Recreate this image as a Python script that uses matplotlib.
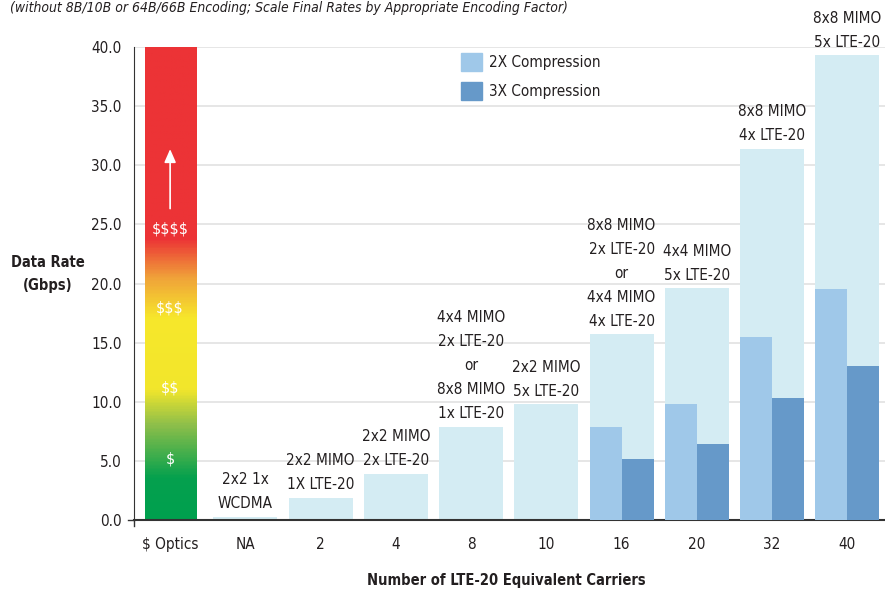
"""
Data rate by number of LTE-20 equivalent carriers, with optics cost scale.
"""
import numpy as np
import matplotlib.pyplot as plt
from matplotlib.colors import LinearSegmentedColormap
from matplotlib.patches import Patch

plt.rcParams['font.family'] = ['DejaVu Sans']
plt.rcParams['font.stretch'] = 'condensed'
plt.rcParams['text.parse_math'] = False

categories = ['$ Optics', 'NA', '2', '4', '8', '10', '16', '20', '32', '40']
rate_cats = ['NA', '2', '4', '8', '10', '16', '20', '32', '40']
rate = [0.25, 1.9, 3.9, 7.9, 9.8, 15.7, 19.6, 31.4, 39.3]
comp_cats = ['16', '20', '32', '40']
comp_2x = [7.9, 9.8, 15.5, 19.5]
comp_3x = [5.2, 6.4, 10.3, 13.0]
bar_labels = ['2x2 1x\nWCDMA', '2x2 MIMO\n1X LTE-20', '2x2 MIMO\n2x LTE-20',
              '4x4 MIMO\n2x LTE-20\nor\n8x8 MIMO\n1x LTE-20', '2x2 MIMO\n5x LTE-20',
              '8x8 MIMO\n2x LTE-20\nor\n4x4 MIMO\n4x LTE-20', '4x4 MIMO\n5x LTE-20',
              '8x8 MIMO\n4x LTE-20', '8x8 MIMO\n5x LTE-20']
cost_labels = ['$', '$$', '$$$', '$$$$']
cost_levels = [5.2, 11.2, 17.9, 24.6]

TXT = '#231f20'
BG = '#d4ecf3'
C2 = '#9fc8e9'
C3 = '#6699c9'

fig = plt.figure(figsize=(8.85, 5.92), dpi=100)
ax = fig.add_axes([134 / 885, 72 / 592, 751 / 885, 473 / 592])
ax.set_xlim(-0.48, 9.5)
ax.set_ylim(0, 40)

pos = {c: i for i, c in enumerate(categories)}
w = 0.85

# optics cost bar as a gradient
cmap = LinearSegmentedColormap.from_list('cost', [
    (0.0, '#00a04e'), (3.5 / 40, '#05a14e'), (8 / 40, '#8fbf4a'),
    (11 / 40, '#f2e62c'), (17 / 40, '#f7e82b'), (20.5 / 40, '#f0a23a'),
    (23.8 / 40, '#ec3336'), (1.0, '#ec3336')])
grad = np.linspace(0, 1, 400).reshape(-1, 1)
ax.imshow(grad, cmap=cmap, origin='lower', aspect='auto',
          extent=[-0.34, 0.34, 0, 40], zorder=2)
for lab, lv in zip(cost_labels, cost_levels):
    ax.text(0, lv, lab, color='white', ha='center', va='center', fontsize=11.5, zorder=3)
ax.annotate('', xy=(0, 31.6), xytext=(0, 26.1),
            arrowprops=dict(arrowstyle='-|>,head_width=0.35,head_length=0.8',
                            color='white', lw=1.2), zorder=3)

# total data rate bars
xr = [pos[c] for c in rate_cats]
ax.bar(xr, rate, width=w, color=BG, zorder=2)
xc = np.array([pos[c] for c in comp_cats])
ax.bar(xc - w / 4, comp_2x, width=w / 2, color=C2, zorder=3)
ax.bar(xc + w / 4, comp_3x, width=w / 2, color=C3, zorder=3)

for x, v, lab in zip(xr, rate, bar_labels):
    ax.annotate(lab, (x, v), xytext=(0, 4), textcoords='offset points',
                ha='center', va='bottom', fontsize=11, color=TXT,
                linespacing=1.75, annotation_clip=False)

ax.set_yticks(np.arange(0, 40.1, 5))
ax.set_yticklabels([f'{t:.1f}' for t in np.arange(0, 40.1, 5)])
ax.set_xticks(range(len(categories)))
ax.set_xticklabels(categories)
ax.tick_params(axis='both', length=0, labelsize=11, colors=TXT)
ax.tick_params(axis='y', pad=9)
ax.tick_params(axis='x', pad=12)
ax.grid(axis='y', color='#e2e2e2', lw=1.2, zorder=0)
ax.set_axisbelow(True)
for s in ['top', 'right']:
    ax.spines[s].set_visible(False)
ax.spines['left'].set_color('#333333')
ax.spines['bottom'].set_color('#333333')
ax.spines['bottom'].set_linewidth(1.5)
ax.plot([0, 0], [0, -0.012], transform=ax.transAxes, color='#333333', lw=1, clip_on=False)
ax.plot([-0.008, 0], [0, 0], transform=ax.transAxes, color='#333333', lw=1, clip_on=False)

ax.legend(handles=[Patch(color=C2, label='2X Compression'),
                   Patch(color=C3, label='3X Compression')],
          loc='upper left', bbox_to_anchor=(0.427, 1.0), frameon=False,
          fontsize=11, handlelength=1.4, handleheight=1.4,
          labelspacing=0.75, handletextpad=0.45, borderaxespad=0,
          labelcolor=TXT)

fig.text(48 / 885, 1 - 274 / 592, 'Data Rate\n(Gbps)', ha='center', va='center',
         fontsize=10.5, fontweight='bold', color=TXT, linespacing=1.6)
fig.text(506 / 885, 1 - 580 / 592, 'Number of LTE-20 Equivalent Carriers', ha='center',
         va='center', fontsize=10.5, fontweight='bold', color=TXT)
fig.text(10 / 885, 1 - 12 / 592,
         '(without 8B/10B or 64B/66B Encoding; Scale Final Rates by Appropriate Encoding Factor)',
         ha='left', va='baseline', fontsize=10, style='italic', color=TXT)

fig.savefig('out.png', dpi=100)
